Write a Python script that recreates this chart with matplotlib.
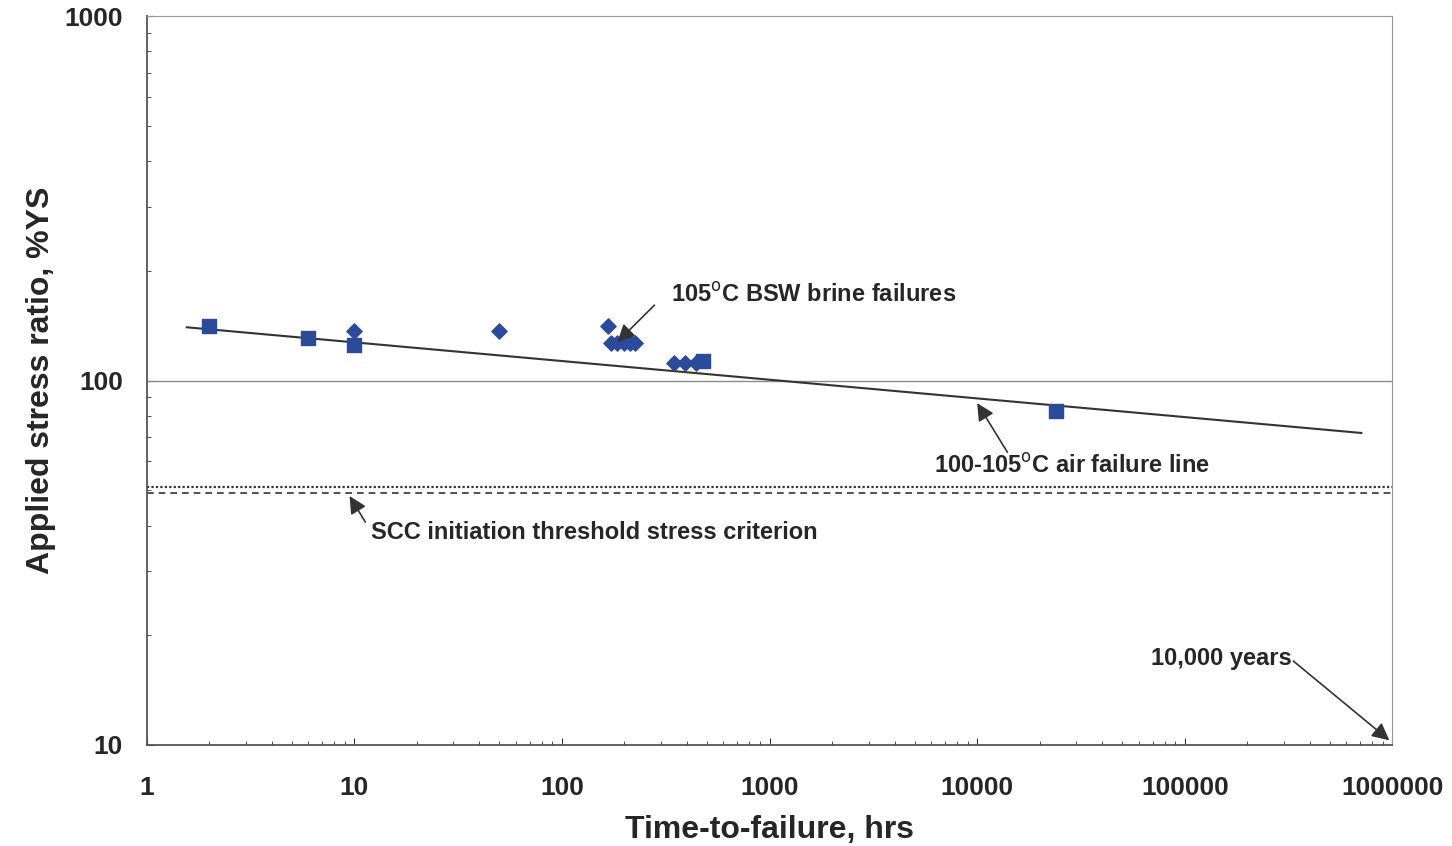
import numpy as np
import matplotlib
matplotlib.use("Agg")
import matplotlib.pyplot as plt

plt.rcParams['font.family'] = ['Liberation Sans', 'DejaVu Sans']

# data
sq_hrs = [2, 6, 10, 24000, 480]
sq_ys = [141, 131, 125, 82.5, 113]
dm_hrs = [10, 50, 166, 173, 185, 198, 212, 226, 345, 390, 440]
dm_ys = [137, 137, 141, 127, 127, 127, 127, 127, 112, 112, 112]

trend_hrs = [1.56, 708000]
trend_ys = [140, 71.8]

ref_level = 100
scc_dotted = 51
scc_dashed = 49

xticks = [1, 10, 100, 1000, 10000, 100000, 1000000]
yticks = [10, 100, 1000]

blue = "#2b4a9c"
txt = "#262626"

fig = plt.figure(figsize=(14.52, 8.46), dpi=100)
ax = fig.add_axes([0.101, 0.1194, 0.858, 0.8616])
ax.set_xscale("log")
ax.set_yscale("log")
ax.set_xlim(1, 1e6)
ax.set_ylim(10, 1000)

ax.axhline(ref_level, color="#8a8a8a", lw=1.0)
ax.axhline(scc_dotted, color="#333333", lw=1.6, ls=(0, (1, 1)))
ax.axhline(scc_dashed, color="#333333", lw=1.2, ls=(0, (4, 3)))
ax.plot(trend_hrs, trend_ys, color="#333333", lw=1.5)

ax.scatter(sq_hrs, sq_ys, marker="s", s=90, color=blue, zorder=3)
ax.scatter(dm_hrs, dm_ys, marker="D", s=60, color=blue, zorder=3)

# annotations: text, then arrow (tail -> head)
ap = dict(arrowstyle="-|>", color="#333333", lw=1.2, mutation_scale=26,
          shrinkA=0, shrinkB=0)
fs = 17
tk = dict(fontsize=fs, fontweight="bold", color=txt, va="center")

ax.text(337, 172, "105$^{\\mathrm{o}}$C BSW brine failures", **tk)
ax.annotate("", xy=(185, 127.6), xytext=(279, 161), arrowprops=ap)

ax.text(6220, 58.3, "100-105$^{\\mathrm{o}}$C air failure line", **tk)
ax.annotate("", xy=(10000, 86.7), xytext=(13970, 63.6), arrowprops=ap)

ax.text(12.1, 38.2, "SCC initiation threshold stress criterion", **tk)
ax.annotate("", xy=(9.49, 48.2), xytext=(11.3, 40.9), arrowprops=ap)

ax.text(326000, 17.3, "10,000 years", ha="right", **tk)
ax.annotate("", xy=(966000, 10.3), xytext=(333000, 17.0), arrowprops=ap)

ax.set_xticks(xticks)
ax.set_xticklabels([str(v) for v in xticks])
ax.set_yticks(yticks)
ax.set_yticklabels([str(v) for v in yticks])
ax.tick_params(which="both", direction="in", labelsize=19, colors="#333333",
               labelcolor=txt)
ax.tick_params(axis="x", pad=22)
ax.tick_params(axis="y", pad=17)
ax.tick_params(which="major", length=5)
ax.tick_params(which="minor", length=3)
for lab in ax.get_xticklabels() + ax.get_yticklabels():
    lab.set_fontweight("bold")

for s in ["top", "right"]:
    ax.spines[s].set_color("#999999")
for s in ["left", "bottom"]:
    ax.spines[s].set_color("#555555")
    ax.spines[s].set_linewidth(1.3)

ax.set_xlabel("Time-to-failure, hrs", fontsize=23, fontweight="bold", color=txt, labelpad=11)
ax.set_ylabel("Applied stress ratio, %YS", fontsize=23, fontweight="bold", color=txt, labelpad=6)

fig.savefig("out.png", dpi=100)
